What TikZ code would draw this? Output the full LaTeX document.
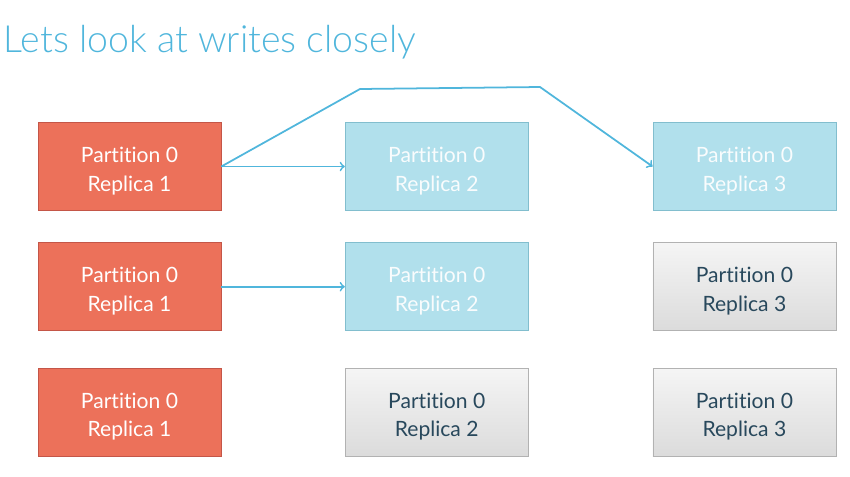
\documentclass[tikz,border=0pt]{standalone}
\usepackage{fontspec}
\setmainfont{Lato}[Ligatures={NoCommon}]
\newfontfamily\titlefont{Lato Light}
\usetikzlibrary{positioning}
\definecolor{wrblue}{RGB}{80,182,220}
\definecolor{ldfill}{RGB}{236,113,90}
\definecolor{ldline}{RGB}{196,86,72}
\definecolor{synfill}{RGB}{177,224,236}
\definecolor{synline}{RGB}{130,190,206}
\definecolor{lagtext}{RGB}{40,72,92}
\tikzset{
  ld/.style={rectangle, minimum width=3.66cm, minimum height=1.76cm, text centered, align=center, text height=30pt, draw=ldline, fill=ldfill, text=white, font=\fontsize{12}{16.4}\selectfont},
  syn/.style={rectangle, minimum width=3.66cm, minimum height=1.76cm, text centered, align=center, text height=30pt, draw=synline, fill=synfill, text=white!92!synfill, font=\fontsize{12}{16.4}\selectfont},
  lag/.style={rectangle, minimum width=3.66cm, minimum height=1.76cm, text centered, align=center, text height=30pt, draw=black!30, top color=black!4, bottom color=black!14, text=lagtext, font=\fontsize{12}{16.4}\selectfont},
  wr/.style={draw=wrblue, line width=1pt},
  node distance=0.63cm
}
\begin{document}
\begin{tikzpicture}
	\useasboundingbox (0,0) rectangle (17,-9.52);
	\node[anchor=base west, text=wrblue, font=\titlefont\fontsize{21.3}{25}\selectfont] (title) at (-0.05,-1.04) {Lets look at writes closely};
	\node[ld] (lead1) at (2.59,-3.33) {Partition 0\\Replica 1};
	\node[syn, right=2.47cm of lead1] (mid1) {Partition 0\\Replica 2};
	\node[syn, right=2.48cm of mid1] (far1) {Partition 0\\Replica 3};
	\node[ld, below=of lead1] (lead2) {Partition 0\\Replica 1};
	\node[syn, right=2.47cm of lead2] (mid2) {Partition 0\\Replica 2};
	\node[lag, right=2.48cm of mid2] (far2) {Partition 0\\Replica 3};
	\node[ld, below=0.74cm of lead2] (lead3) {Partition 0\\Replica 1};
	\node[lag, right=2.47cm of lead3] (mid3) {Partition 0\\Replica 2};
	\node[lag, right=2.48cm of mid3] (far3) {Partition 0\\Replica 3};
	%
	\coordinate (bendl) at (7.2,-1.78);
	\coordinate (bendr) at (10.8,-1.74);
	\draw[wr,->] (lead1.east) -- (mid1.west);
	\draw[wr,->] (lead1.east) -- (bendl) -- (bendr) -- (far1.west);
	\draw[wr,->] (lead2.east) -- (mid2.west);
\end{tikzpicture}
\end{document}
